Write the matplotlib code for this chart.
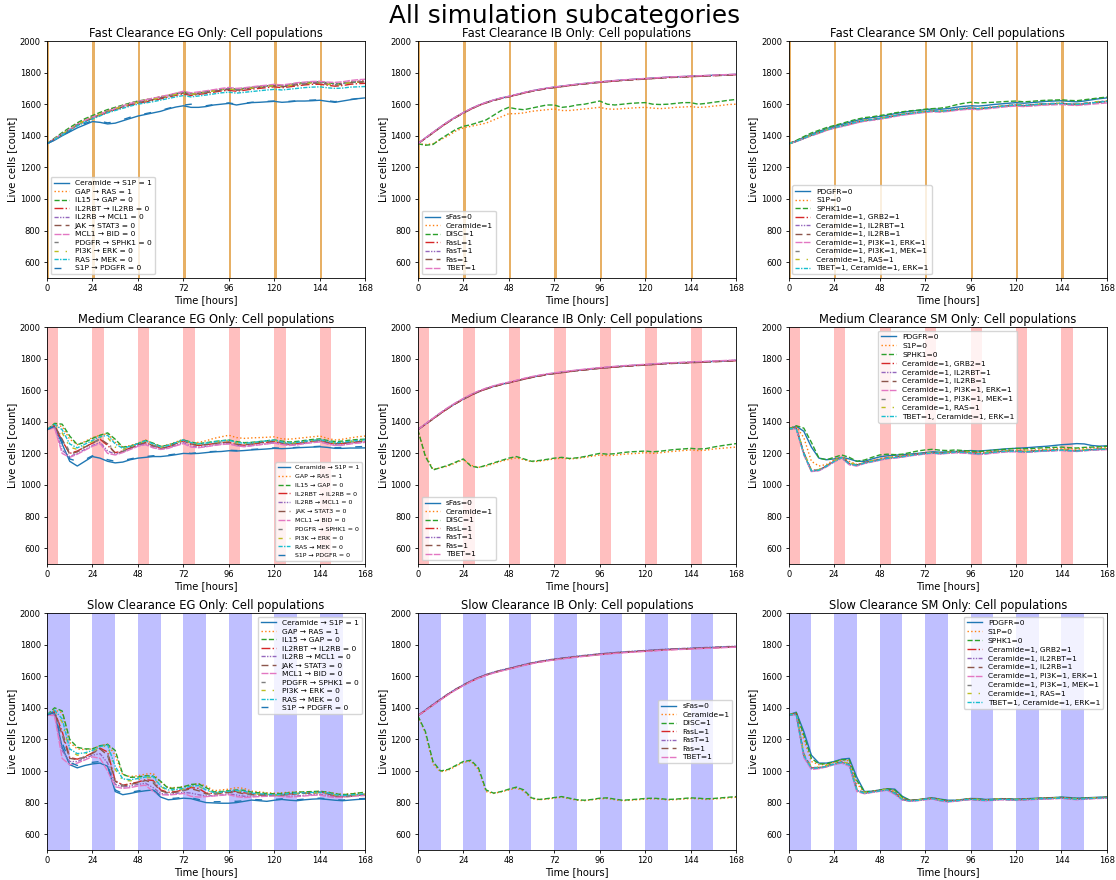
import numpy as np
import matplotlib
matplotlib.use("Agg")
import matplotlib.pyplot as plt

# Simulation time grid (hours) at which populations were sampled
hours = list(range(0, 169, 4))
ticks_hours = [0, 24, 48, 72, 96, 120, 144, 168]
dose_starts = [0, 24, 48, 72, 96, 120, 144]

eg_labels = ["Ceramide → S1P = 1", "GAP → RAS = 1", "IL15 → GAP = 0",
             "IL2RBT → IL2RB = 0", "IL2RB → MCL1 = 0", "JAK → STAT3 = 0",
             "MCL1 → BID = 0", "PDGFR → SPHK1 = 0", "PI3K → ERK = 0",
             "RAS → MEK = 0", "S1P → PDGFR = 0"]
ib_labels = ["sFas=0", "Ceramide=1", "DISC=1", "FasL=1", "FasT=1", "Fas=1", "TBET=1"]
sm_labels = ["PDGFR=0", "S1P=0", "SPHK1=0", "Ceramide=1, GRB2=1", "Ceramide=1, IL2RBT=1",
             "Ceramide=1, IL2RB=1", "Ceramide=1, PI3K=1, ERK=1", "Ceramide=1, PI3K=1, MEK=1",
             "Ceramide=1, RAS=1", "TBET=1, Ceramide=1, ERK=1"]

# ---------------- Fast clearance ----------------
fast_eg = [
    [1350,1372,1400,1425,1450,1470,1490, 1485,1475,1480,1495,1510,1525, 1535,1545,1555,1570,1582,1590, 1580,1580,1585,1595,1600,1605, 1595,1603,1610,1612,1615,1618, 1612,1615,1620,1620,1622,1625, 1618,1612,1620,1628,1635,1640],
    [1350,1382,1415,1448,1478,1502,1522, 1542,1562,1578,1592,1606,1618, 1628,1638,1648,1658,1668,1676, 1668,1672,1680,1688,1695,1700, 1694,1698,1705,1712,1716,1722, 1716,1722,1730,1735,1740,1740, 1732,1728,1734,1742,1746,1750],
    [1350,1385,1420,1452,1482,1508,1528, 1548,1566,1580,1594,1608,1620, 1628,1636,1646,1655,1666,1678, 1666,1670,1678,1686,1694,1700, 1695,1700,1706,1712,1716,1722, 1718,1724,1732,1736,1740,1742, 1736,1730,1732,1738,1740,1742],
    [1350,1378,1408,1436,1466,1490,1510, 1530,1550,1565,1580,1594,1606, 1614,1624,1634,1645,1656,1666, 1655,1662,1668,1676,1684,1688, 1682,1688,1695,1700,1705,1710, 1704,1710,1716,1722,1726,1726, 1720,1714,1718,1726,1730,1732],
    [1350,1380,1410,1440,1470,1494,1514, 1534,1554,1570,1586,1600,1614, 1622,1632,1642,1652,1664,1674, 1662,1670,1677,1685,1692,1698, 1692,1698,1704,1710,1714,1720, 1714,1720,1728,1732,1736,1738, 1730,1725,1730,1740,1744,1748],
    [1350,1379,1409,1438,1468,1493,1513, 1533,1553,1568,1583,1598,1610, 1619,1629,1639,1649,1660,1670, 1659,1666,1673,1681,1688,1693, 1688,1693,1700,1706,1710,1716, 1710,1716,1723,1728,1733,1733, 1726,1720,1726,1735,1739,1742],
    [1350,1381,1412,1442,1472,1497,1518, 1538,1558,1574,1590,1605,1618, 1628,1638,1648,1658,1670,1682, 1672,1678,1685,1692,1700,1706, 1700,1704,1710,1716,1720,1726, 1722,1728,1736,1740,1744,1745, 1740,1738,1742,1750,1755,1758],
    [1350,1380,1410,1440,1470,1495,1515, 1536,1556,1571,1586,1601,1613, 1621,1631,1641,1651,1663,1673, 1661,1669,1676,1684,1691,1696, 1691,1696,1703,1709,1713,1719, 1713,1719,1726,1731,1736,1736, 1729,1723,1729,1739,1743,1746],
    [1350,1381,1411,1441,1471,1496,1516, 1536,1556,1571,1586,1601,1612, 1621,1631,1641,1651,1662,1672, 1662,1669,1676,1684,1691,1696, 1690,1695,1702,1708,1712,1718, 1712,1718,1725,1730,1734,1734, 1727,1722,1728,1736,1740,1744],
    [1350,1376,1405,1434,1462,1486,1506, 1526,1545,1560,1574,1588,1600, 1608,1616,1626,1636,1646,1655, 1646,1652,1658,1665,1672,1676, 1670,1675,1680,1685,1690,1694, 1690,1695,1700,1705,1708,1710, 1704,1700,1702,1708,1710,1712],
    [1350,1374,1402,1428,1455,1478,1495, 1492,1482,1488,1502,1518,1532, 1540,1550,1560,1574,1586,1594, 1600,1595,1590,1598,1604,1608, 1600,1606,1612,1614,1618,1620, 1615,1618,1622,1624,1626,1628, 1622,1616,1622,1630,1636,1640],
]

fast_ib = [
    [1350,1386,1421,1456,1489,1519,1546, 1571,1593,1611,1626,1639,1649, 1661,1673,1684,1693,1701,1708, 1714,1720,1726,1731,1736,1741, 1745,1749,1753,1756,1759,1762, 1765,1768,1771,1773,1775,1777, 1779,1781,1783,1785,1787,1789],
    [1350,1345,1350,1375,1400,1430,1450, 1460,1470,1480,1500,1520,1540, 1540,1545,1555,1560,1565,1570, 1560,1560,1565,1570,1575,1580, 1570,1568,1572,1575,1578,1580, 1575,1572,1575,1580,1582,1585, 1580,1582,1588,1592,1598,1600],
    [1350,1340,1345,1380,1410,1440,1460, 1470,1485,1500,1530,1560,1580, 1570,1565,1575,1585,1595,1595, 1580,1585,1595,1600,1610,1620, 1600,1595,1600,1605,1608,1610, 1600,1598,1600,1605,1610,1610, 1600,1605,1612,1618,1625,1630],
    [1350,1384,1419,1454,1487,1517,1544, 1569,1591,1609,1624,1637,1647, 1659,1671,1682,1691,1699,1706, 1712,1718,1724,1729,1734,1739, 1743,1747,1751,1754,1757,1760, 1763,1766,1769,1771,1773,1775, 1777,1779,1781,1783,1785,1787],
    [1350,1385,1420,1455,1488,1518,1545, 1570,1592,1610,1625,1638,1648, 1660,1672,1683,1692,1700,1707, 1713,1719,1725,1730,1735,1740, 1744,1748,1752,1755,1758,1761, 1764,1767,1770,1772,1774,1776, 1778,1780,1782,1784,1786,1788],
    [1350,1383,1418,1453,1486,1516,1543, 1568,1590,1608,1623,1636,1646, 1658,1670,1681,1690,1698,1705, 1711,1717,1723,1728,1733,1738, 1742,1746,1750,1753,1756,1759, 1762,1765,1768,1770,1772,1774, 1776,1778,1780,1782,1784,1786],
    [1350,1387,1422,1457,1490,1520,1547, 1572,1594,1612,1627,1640,1650, 1662,1674,1685,1694,1702,1709, 1715,1721,1727,1732,1737,1742, 1746,1750,1754,1757,1760,1763, 1766,1769,1772,1774,1776,1778, 1780,1782,1784,1786,1788,1790],
]

fast_sm = [
    [1350,1368,1390,1410,1428,1445,1460, 1472,1485,1498,1508,1515,1522, 1530,1540,1548,1555,1560,1565, 1570,1568,1572,1580,1586,1590, 1588,1592,1598,1602,1606,1610, 1606,1610,1614,1618,1620,1622, 1618,1615,1620,1628,1635,1640],
    [1350,1366,1386,1406,1422,1440,1452, 1462,1475,1488,1498,1502,1510, 1518,1528,1536,1542,1548,1552, 1555,1552,1556,1564,1570,1574, 1570,1574,1580,1584,1588,1592, 1588,1590,1595,1598,1600,1602, 1598,1596,1600,1606,1612,1618],
    [1350,1370,1395,1418,1435,1452,1465, 1478,1492,1505,1515,1520,1528, 1535,1545,1552,1558,1562,1568, 1572,1575,1582,1595,1605,1612, 1608,1610,1612,1615,1618,1620, 1615,1618,1622,1625,1626,1628, 1624,1622,1628,1634,1640,1645],
    [1350,1364,1384,1402,1418,1436,1450, 1460,1472,1485,1495,1500,1508, 1516,1526,1534,1540,1546,1552, 1556,1554,1558,1565,1570,1574, 1570,1575,1580,1585,1590,1594, 1590,1594,1598,1600,1602,1604, 1600,1598,1602,1608,1612,1616],
    [1350,1365,1385,1404,1420,1438,1452, 1463,1476,1488,1498,1503,1510, 1518,1528,1536,1543,1548,1554, 1558,1556,1560,1568,1573,1576, 1572,1577,1582,1587,1592,1596, 1592,1596,1600,1603,1604,1606, 1602,1600,1605,1610,1615,1620],
    [1350,1364,1383,1403,1419,1437,1451, 1461,1474,1486,1496,1502,1509, 1517,1527,1535,1541,1547,1553, 1557,1555,1559,1566,1571,1575, 1571,1576,1581,1586,1591,1595, 1591,1595,1599,1602,1603,1605, 1601,1599,1603,1609,1614,1618],
    [1350,1363,1382,1400,1416,1434,1448, 1458,1470,1482,1492,1498,1505, 1512,1522,1530,1536,1542,1548, 1552,1550,1554,1560,1565,1568, 1565,1570,1575,1580,1585,1588, 1585,1588,1592,1595,1596,1598, 1594,1592,1596,1600,1604,1608],
    [1350,1365,1386,1406,1421,1440,1454, 1464,1477,1489,1499,1504,1511, 1519,1529,1537,1544,1549,1555, 1559,1557,1561,1569,1574,1577, 1573,1578,1583,1588,1593,1597, 1593,1597,1601,1604,1605,1607, 1603,1601,1606,1612,1617,1622],
    [1350,1366,1386,1405,1421,1439,1453, 1463,1476,1489,1499,1504,1511, 1519,1529,1537,1544,1549,1555, 1559,1557,1561,1568,1573,1577, 1573,1578,1583,1588,1593,1597, 1593,1596,1600,1603,1605,1607, 1603,1601,1606,1612,1618,1622],
    [1350,1364,1384,1404,1420,1438,1452, 1462,1475,1487,1497,1502,1509, 1517,1527,1535,1541,1547,1553, 1557,1555,1559,1566,1571,1575, 1571,1576,1581,1586,1591,1595, 1591,1595,1599,1602,1603,1605, 1601,1599,1603,1608,1613,1618],
]

# ---------------- Medium clearance ----------------
medium_eg = [
    [1350,1370,1260,1150,1120,1150,1180, 1170,1150,1140,1145,1160,1170, 1175,1180,1180,1185,1192,1200, 1198,1200,1205,1210,1212,1217, 1215,1218,1222,1225,1228,1232, 1230,1232,1236,1238,1240,1242, 1238,1232,1232,1234,1234,1235],
    [1350,1382,1370,1290,1255,1275,1300, 1315,1325,1270,1240,1250,1265, 1285,1260,1245,1255,1272,1290, 1265,1270,1280,1295,1305,1315, 1300,1295,1298,1300,1302,1305, 1292,1290,1295,1300,1305,1310, 1295,1285,1290,1298,1305,1310],
    [1350,1390,1385,1310,1255,1270,1295, 1315,1330,1290,1240,1245,1262, 1282,1265,1245,1252,1268,1285, 1272,1262,1268,1275,1280,1285, 1275,1268,1270,1275,1280,1285, 1278,1272,1276,1282,1288,1292, 1282,1275,1278,1284,1288,1290],
    [1350,1375,1280,1200,1215,1240,1265, 1290,1250,1205,1215,1235,1255, 1268,1250,1235,1242,1260,1280, 1258,1250,1255,1262,1268,1270, 1255,1252,1258,1265,1270,1275, 1262,1258,1262,1270,1276,1282, 1268,1260,1262,1268,1272,1276],
    [1350,1368,1220,1180,1200,1225,1250, 1270,1215,1195,1210,1230,1250, 1260,1240,1228,1235,1252,1268, 1245,1240,1245,1252,1260,1262, 1250,1245,1250,1256,1262,1268, 1258,1252,1256,1264,1270,1276, 1262,1252,1255,1262,1268,1272],
    [1350,1376,1290,1195,1210,1240,1265, 1292,1260,1200,1210,1232,1255, 1270,1248,1232,1240,1262,1285, 1260,1252,1256,1262,1268,1272, 1258,1254,1260,1268,1274,1280, 1266,1260,1264,1272,1278,1284, 1270,1262,1265,1270,1275,1278],
    [1350,1362,1200,1175,1195,1220,1245, 1262,1200,1190,1205,1225,1245, 1255,1235,1225,1232,1248,1262, 1240,1236,1242,1250,1256,1260, 1248,1242,1248,1254,1260,1265, 1256,1250,1254,1262,1268,1272, 1260,1250,1252,1260,1265,1270],
    [1350,1378,1300,1210,1215,1242,1268, 1288,1270,1210,1215,1236,1258, 1272,1252,1236,1244,1262,1282, 1262,1255,1260,1266,1272,1275, 1260,1256,1262,1268,1274,1278, 1266,1260,1265,1272,1278,1283, 1270,1263,1266,1272,1276,1280],
    [1350,1380,1330,1240,1225,1250,1275, 1300,1300,1240,1225,1242,1262, 1278,1258,1240,1248,1266,1285, 1266,1258,1262,1270,1278,1282, 1268,1262,1266,1272,1276,1282, 1270,1264,1268,1275,1280,1286, 1274,1266,1268,1275,1280,1284],
    [1350,1384,1350,1260,1235,1258,1282, 1305,1315,1260,1232,1245,1262, 1280,1260,1242,1250,1268,1286, 1268,1260,1265,1272,1280,1284, 1270,1264,1268,1274,1280,1285, 1272,1266,1270,1277,1282,1288, 1276,1268,1270,1277,1282,1286],
    [1350,1372,1275,1165,1150,1160,1185, 1180,1160,1150,1155,1165,1175, 1180,1185,1186,1190,1196,1205, 1200,1205,1210,1212,1215,1220, 1218,1222,1225,1228,1230,1235, 1232,1235,1238,1240,1242,1245, 1240,1236,1238,1240,1242,1244],
]

medium_ib = [
    [1350,1385,1420,1455,1487,1517,1544, 1569,1591,1609,1624,1637,1648, 1660,1671,1682,1691,1700,1707, 1713,1719,1725,1730,1735,1740, 1744,1748,1752,1755,1758,1761, 1764,1767,1770,1772,1774,1776, 1778,1780,1782,1784,1786,1789],
    [1350,1190,1100,1108,1120,1140,1160, 1125,1112,1120,1135,1150,1162, 1172,1160,1148,1150,1158,1165, 1170,1165,1168,1175,1182,1190, 1186,1188,1194,1198,1200,1205, 1200,1204,1210,1214,1218,1222, 1218,1220,1228,1232,1236,1240],
    [1350,1180,1095,1110,1125,1145,1165, 1120,1110,1125,1140,1155,1170, 1180,1165,1150,1155,1162,1170, 1175,1168,1172,1180,1190,1200, 1195,1198,1205,1210,1212,1215, 1210,1214,1220,1225,1228,1232, 1228,1230,1240,1248,1255,1262],
    [1350,1384,1419,1453,1486,1516,1543, 1568,1590,1608,1623,1636,1647, 1659,1670,1681,1690,1699,1706, 1712,1718,1724,1729,1734,1739, 1743,1747,1751,1754,1757,1760, 1763,1766,1769,1771,1773,1775, 1777,1779,1781,1783,1785,1787],
    [1350,1386,1421,1456,1489,1519,1546, 1571,1593,1611,1626,1639,1649, 1661,1673,1684,1693,1701,1708, 1714,1720,1726,1731,1736,1741, 1745,1749,1753,1756,1759,1762, 1765,1768,1771,1773,1775,1777, 1779,1781,1783,1785,1787,1790],
    [1350,1383,1417,1452,1485,1515,1542, 1567,1589,1607,1622,1635,1646, 1658,1669,1680,1689,1698,1705, 1711,1717,1723,1728,1733,1738, 1742,1746,1750,1753,1756,1759, 1762,1765,1768,1770,1772,1774, 1776,1778,1780,1782,1784,1786],
    [1350,1387,1423,1458,1491,1521,1548, 1573,1595,1613,1628,1641,1651, 1663,1675,1686,1695,1703,1710, 1716,1722,1728,1733,1738,1743, 1747,1751,1755,1758,1761,1764, 1767,1770,1773,1775,1777,1779, 1781,1783,1785,1787,1789,1791],
]

medium_sm = [
    [1355,1372,1340,1240,1170,1160,1165, 1175,1165,1150,1150,1165,1178, 1185,1188,1192,1196,1200,1205, 1210,1208,1210,1212,1215,1218, 1215,1218,1222,1226,1230,1232, 1235,1238,1242,1245,1250,1255, 1258,1262,1260,1250,1246,1248],
    [1355,1370,1300,1150,1120,1130,1160, 1178,1150,1130,1140,1155,1165, 1175,1180,1185,1190,1196,1200, 1205,1200,1205,1208,1210,1212, 1206,1208,1212,1215,1218,1222, 1222,1220,1224,1226,1230,1232, 1230,1228,1232,1236,1238,1240],
    [1355,1375,1360,1270,1170,1160,1175, 1190,1175,1150,1158,1175,1190, 1195,1192,1195,1205,1215,1222, 1226,1220,1218,1222,1218,1215, 1212,1215,1220,1224,1228,1232, 1230,1230,1234,1236,1238,1240, 1236,1234,1238,1240,1242,1245],
    [1355,1360,1200,1090,1095,1120,1150, 1175,1135,1125,1140,1150,1160, 1170,1175,1180,1188,1195,1200, 1204,1200,1205,1210,1208,1205, 1198,1202,1208,1212,1215,1215, 1210,1212,1216,1218,1220,1222, 1218,1216,1220,1224,1226,1228],
    [1355,1358,1195,1088,1092,1118,1148, 1172,1130,1122,1138,1148,1158, 1168,1172,1178,1186,1192,1198, 1202,1198,1202,1206,1204,1200, 1195,1198,1204,1208,1212,1212, 1208,1210,1214,1216,1218,1220, 1216,1214,1218,1222,1224,1226],
    [1355,1362,1205,1092,1096,1122,1152, 1176,1138,1127,1142,1152,1162, 1171,1176,1182,1190,1196,1202, 1205,1202,1206,1211,1209,1206, 1200,1204,1209,1213,1216,1216, 1212,1214,1218,1220,1222,1224, 1220,1218,1222,1226,1228,1230],
    [1355,1356,1190,1085,1090,1115,1145, 1170,1128,1120,1136,1146,1156, 1166,1170,1176,1184,1190,1196, 1200,1196,1200,1204,1202,1198, 1193,1196,1202,1206,1210,1210, 1206,1208,1212,1214,1216,1218, 1214,1212,1216,1220,1222,1224],
    [1355,1361,1202,1091,1097,1121,1151, 1174,1136,1126,1141,1151,1161, 1170,1175,1181,1189,1195,1201, 1205,1201,1206,1210,1208,1204, 1199,1203,1208,1212,1215,1216, 1211,1213,1217,1219,1221,1223, 1219,1217,1221,1225,1227,1229],
    [1355,1363,1210,1095,1098,1123,1153, 1177,1140,1128,1143,1153,1163, 1172,1177,1183,1190,1197,1203, 1206,1203,1207,1212,1210,1207, 1201,1205,1210,1214,1217,1217, 1213,1215,1219,1221,1223,1225, 1221,1219,1223,1227,1229,1231],
    [1355,1359,1198,1089,1094,1119,1149, 1173,1133,1124,1139,1149,1159, 1169,1174,1179,1187,1194,1199, 1203,1199,1204,1209,1207,1203, 1197,1201,1207,1211,1214,1214, 1209,1211,1215,1217,1219,1221, 1217,1215,1219,1223,1225,1227],
]

# ---------------- Slow clearance ----------------
slow_eg = [
    [1355,1370,1150,1040,1020,1035,1045, 1050,1030,870,850,858,868, 875,880,835,818,822,828, 825,812,800,798,796,796, 800,808,816,812,808,815, 820,815,812,818,822,824, 820,815,812,816,820,822],
    [1355,1385,1370,1180,1140,1135,1140, 1160,1170,1100,975,965,970, 980,985,930,895,895,900, 910,920,905,875,880,885, 895,890,872,868,862,860, 862,866,868,866,868,870, 868,858,852,856,860,865],
    [1355,1400,1380,1200,1150,1140,1140, 1160,1168,1130,980,960,962, 970,968,935,890,892,900, 915,918,895,868,870,876, 880,878,866,862,858,856, 858,862,866,868,870,872, 866,856,850,854,860,866],
    [1355,1375,1250,1085,1075,1090,1115, 1145,1120,940,910,920,930, 945,940,880,865,870,880, 895,890,860,858,862,868, 872,862,856,852,848,846, 850,855,858,860,862,866, 860,842,838,842,848,852],
    [1355,1360,1130,1060,1060,1080,1100, 1110,1050,915,898,905,915, 922,895,858,852,858,865, 860,850,842,844,848,855, 848,840,840,842,844,846, 842,840,842,846,850,852, 845,836,838,842,846,848],
    [1355,1372,1230,1080,1072,1088,1112, 1140,1100,935,905,915,926, 940,925,875,860,866,876, 888,875,855,853,858,864, 866,855,850,848,846,845, 848,852,856,858,860,864, 856,840,836,840,846,850],
    [1355,1350,1080,1040,1050,1070,1090, 1080,1000,900,890,895,905, 910,870,850,848,852,858, 840,835,838,842,846,850, 838,832,835,838,840,842, 838,835,838,842,846,848, 838,832,835,838,842,845],
    [1355,1374,1245,1082,1074,1090,1114, 1142,1110,938,908,918,928, 942,932,878,862,868,878, 892,882,858,856,860,866, 868,858,853,850,847,845, 849,853,857,859,861,865, 858,841,837,841,847,851],
    [1355,1383,1310,1130,1100,1108,1125, 1150,1160,1010,940,938,946, 956,960,900,876,878,886, 900,904,878,862,864,870, 874,870,858,854,850,848, 850,856,858,860,862,864, 860,848,843,846,850,854],
    [1355,1385,1330,1140,1110,1115,1130, 1155,1165,1030,950,945,952, 962,965,905,880,882,890, 905,908,880,864,866,872, 876,872,860,856,852,850, 852,858,860,862,864,866, 862,850,845,848,852,856],
    [1355,1372,1180,1055,1035,1045,1055, 1060,1040,880,858,865,874, 880,882,842,825,828,834, 830,820,808,805,806,810, 808,812,820,818,815,820, 824,820,818,822,826,828, 824,818,816,820,824,826],
]

slow_ib = [
    [1350,1385,1420,1454,1487,1517,1544, 1569,1591,1609,1624,1637,1648, 1660,1672,1683,1692,1700,1707, 1713,1719,1725,1730,1735,1740, 1744,1748,1752,1755,1758,1761, 1764,1767,1770,1772,1774,1776, 1778,1780,1782,1784,1786,1788],
    [1350,1240,1045,995,1005,1030,1055, 1062,1010,870,858,868,880, 892,872,825,818,822,828, 834,824,815,812,818,824, 826,818,812,815,818,822, 824,822,817,819,822,826, 824,820,822,826,830,834],
    [1350,1250,1060,1000,1010,1035,1060, 1068,1020,880,860,870,885, 898,880,830,820,825,832, 838,828,818,815,820,828, 830,822,815,818,822,826, 828,825,820,822,826,830, 828,824,826,830,834,838],
    [1350,1383,1418,1452,1485,1515,1542, 1567,1589,1607,1622,1635,1646, 1658,1670,1681,1690,1698,1705, 1711,1717,1723,1728,1733,1738, 1742,1746,1750,1753,1756,1759, 1762,1765,1768,1770,1772,1774, 1776,1778,1780,1782,1784,1786],
    [1350,1386,1422,1456,1489,1519,1546, 1571,1593,1611,1626,1639,1650, 1662,1674,1685,1694,1702,1709, 1715,1721,1727,1732,1737,1742, 1746,1750,1754,1757,1760,1763, 1766,1769,1772,1774,1776,1778, 1780,1782,1784,1786,1788,1790],
    [1350,1384,1419,1453,1486,1516,1543, 1568,1590,1608,1623,1636,1647, 1659,1671,1682,1691,1699,1706, 1712,1718,1724,1729,1734,1739, 1743,1747,1751,1754,1757,1760, 1763,1766,1769,1771,1773,1775, 1777,1779,1781,1783,1785,1787],
    [1350,1382,1416,1450,1483,1513,1540, 1565,1587,1605,1620,1633,1644, 1656,1668,1679,1688,1696,1703, 1709,1715,1721,1726,1731,1736, 1740,1744,1748,1751,1754,1757, 1760,1763,1766,1768,1770,1772, 1774,1776,1778,1780,1782,1784],
]

slow_sm = [
    [1355,1372,1250,1100,1050,1050,1060, 1075,1080,960,870,872,880, 888,885,840,815,818,825, 830,822,815,815,820,826, 825,820,822,825,824,822, 824,826,828,830,832,835, 832,828,830,832,834,836],
    [1355,1368,1200,1060,1040,1040,1055, 1070,1065,920,865,870,878, 886,875,830,814,816,824, 828,818,810,812,818,824, 820,816,818,822,820,818, 820,822,826,828,830,832, 828,824,826,828,830,832],
    [1355,1370,1230,1080,1045,1045,1058, 1072,1072,940,868,871,879, 887,880,835,815,817,824, 829,820,812,813,819,825, 822,818,820,823,822,820, 822,824,827,829,831,833, 830,826,828,830,832,834],
    [1355,1360,1100,1020,1020,1030,1045, 1055,1040,880,860,868,875, 882,860,820,812,815,822, 826,815,808,812,818,822, 818,815,818,822,820,818, 820,822,825,826,828,830, 826,822,825,828,830,832],
    [1355,1358,1095,1015,1018,1028,1043, 1053,1035,875,858,866,873, 880,856,818,810,813,820, 824,812,806,810,816,820, 816,813,816,820,818,816, 818,820,823,824,826,828, 824,820,823,826,828,830],
    [1355,1362,1105,1022,1022,1032,1047, 1057,1044,884,862,870,877, 884,863,822,813,816,823, 827,816,809,813,819,823, 819,816,819,823,821,819, 821,823,826,827,829,831, 827,823,826,829,831,833],
    [1355,1356,1085,1010,1015,1026,1040, 1050,1030,870,856,864,871, 878,852,816,808,812,818, 822,810,804,808,814,818, 814,811,814,818,816,814, 816,818,821,822,824,826, 822,818,821,824,826,828],
    [1355,1361,1102,1021,1021,1031,1046, 1056,1042,882,861,869,876, 883,861,821,812,815,822, 826,815,808,812,818,822, 818,815,818,822,820,818, 820,822,825,826,828,830, 826,822,825,828,830,832],
    [1355,1364,1112,1025,1024,1034,1049, 1059,1048,888,864,872,879, 886,866,824,814,817,824, 828,817,810,814,820,824, 820,817,820,824,822,820, 822,824,827,828,830,832, 828,824,827,830,832,834],
    [1355,1359,1098,1018,1019,1029,1044, 1054,1038,878,859,867,874, 881,858,819,811,814,821, 825,814,807,811,817,821, 817,814,817,821,819,817, 819,821,824,825,827,829, 825,821,824,827,829,831],
]

# ---------------- Styling ----------------
line_colors = ["tab:blue", "tab:orange", "tab:green", "tab:red", "tab:purple", "tab:brown",
               "tab:pink", "tab:gray", "tab:olive", "tab:cyan", "tab:blue"]
line_styles = ["-", ":", "--", "-.", (0, (3, 1, 1, 1, 1, 1)), (0, (5, 3)), (0, (5, 1)),
               (0, (3, 10, 1, 10)), (0, (3, 5, 1, 5)), (0, (3, 1, 1, 1)), (0, (5, 10))]

clearance = {
    "Fast": dict(width=1.2, color="#e3a24a", alpha=0.85),
    "Medium": dict(width=6, color="red", alpha=0.25),
    "Slow": dict(width=12, color="blue", alpha=0.25),
}

panels = [
    ("Fast", "EG", fast_eg, eg_labels, "lower left", 5.4, 0.3),
    ("Fast", "IB", fast_ib, ib_labels, "lower left", 5.4, 0.3),
    ("Fast", "SM", fast_sm, sm_labels, "lower left", 5.4, 0.3),
    ("Medium", "EG", medium_eg, eg_labels, "lower right", 4.5, 0.55),
    ("Medium", "IB", medium_ib, ib_labels, "lower left", 5.4, 0.3),
    ("Medium", "SM", medium_sm, sm_labels, "upper center", 5.4, 0.35),
    ("Slow", "EG", slow_eg, eg_labels, "upper right", 5.4, 0.3),
    ("Slow", "IB", slow_ib, ib_labels, "center right", 5.4, 0.3),
    ("Slow", "SM", slow_sm, sm_labels, "upper right", 5.4, 0.35),
]

fig, axes = plt.subplots(3, 3, figsize=(11.16, 8.8), dpi=100)
fig.subplots_adjust(left=0.0421, right=0.9919, top=0.9534, bottom=0.0341,
                    wspace=0.165, hspace=0.207)

for ax, (speed, cat, series, labels, loc, lfs, lsp) in zip(axes.flat, panels):
    band = clearance[speed]
    for start in dose_starts:
        ax.axvspan(start, start + band["width"], facecolor=band["color"],
                   alpha=band["alpha"], lw=0, zorder=0)
    for i, (vals, lab) in enumerate(zip(series, labels)):
        ax.plot(hours, vals, color=line_colors[i], linestyle=line_styles[i],
                lw=1.0, label=lab, zorder=2)
    ax.set_xlim(0, 168)
    ax.set_ylim(500, 2000)
    ax.set_xticks(ticks_hours)
    ax.set_yticks(range(600, 2001, 200))
    ax.tick_params(labelsize=6.0, length=2.5, width=0.6, pad=2)
    for sp in ax.spines.values():
        sp.set_linewidth(0.6)
    ax.set_xlabel("Time [hours]", fontsize=7.2, labelpad=1)
    ax.set_ylabel("Live cells [count]", fontsize=7.2, labelpad=2)
    ax.set_title(f"{speed} Clearance {cat} Only: Cell populations", fontsize=8.3, pad=3)
    ax.legend(loc=loc, fontsize=lfs, handlelength=2.0, labelspacing=lsp,
              borderpad=0.4, framealpha=0.8, edgecolor="0.8", fancybox=True)

fig.text(0.506, 0.982, "All simulation subcategories", ha="center", va="center", fontsize=17.8)

fig.savefig("out.png", dpi=100)
